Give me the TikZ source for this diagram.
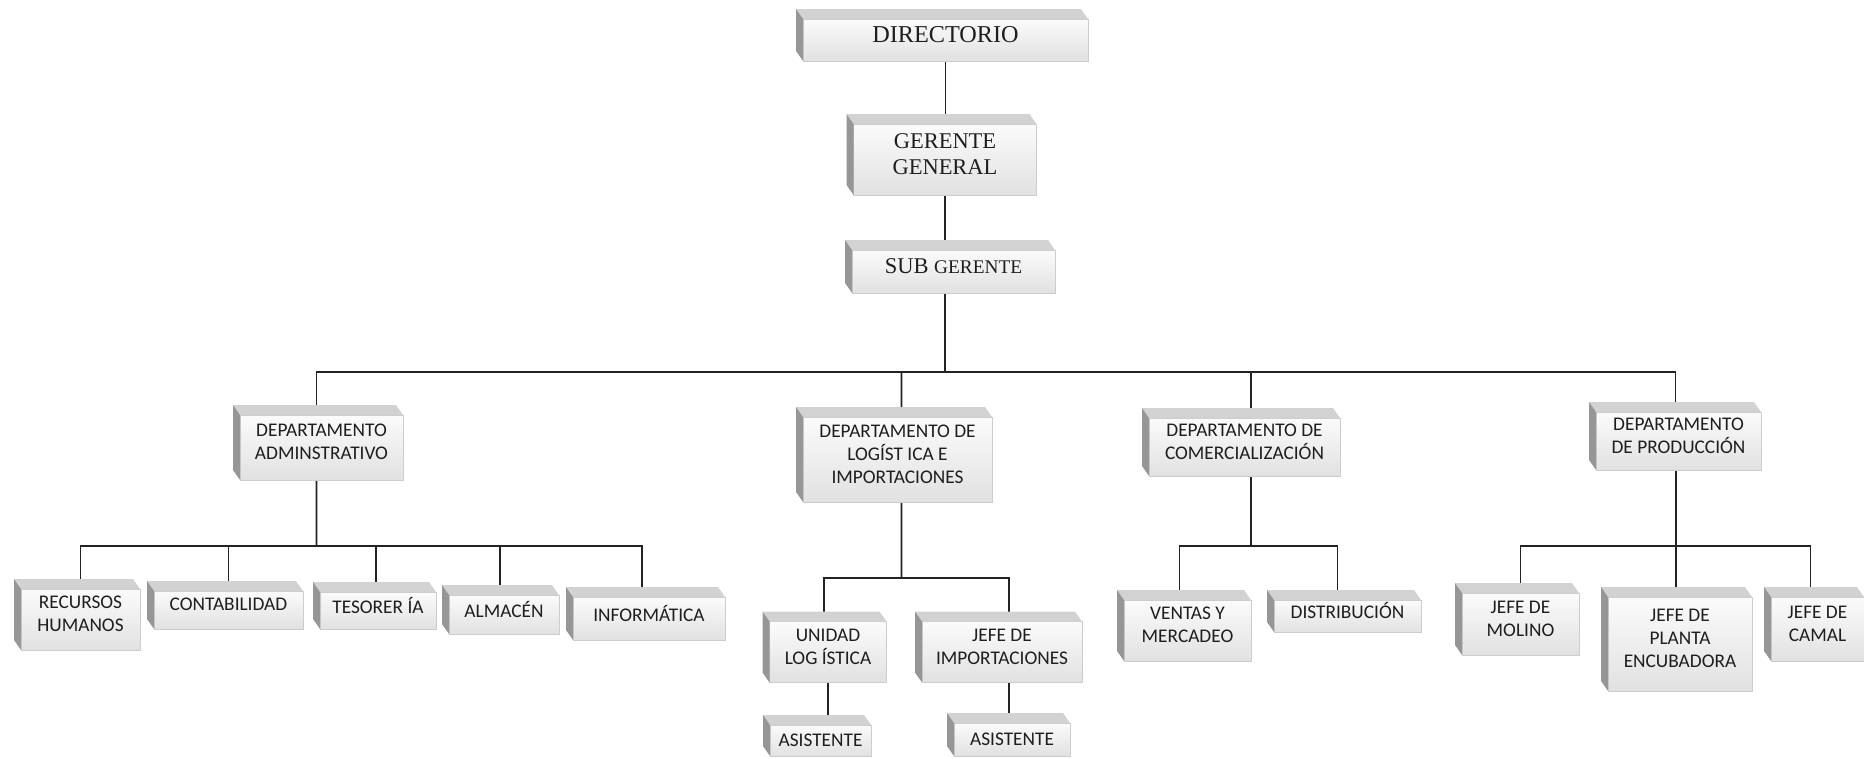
\documentclass[tikz,border=0pt]{standalone}
\usepackage{fontspec}
\setmainfont{Liberation Serif}
\newfontfamily\calibri{Carlito}
\usetikzlibrary{calc,backgrounds}
\definecolor{Ink}{RGB}{30,30,30}
\definecolor{Wire}{RGB}{35,35,35}
\definecolor{FaceTop}{RGB}{251,251,251}
\definecolor{FaceBot}{RGB}{225,225,225}
\definecolor{Rim}{RGB}{205,205,205}
\definecolor{BevelTop}{RGB}{210,210,210}
\definecolor{BevelSide}{RGB}{150,150,150}
\tikzset{
  post/.style={draw=Rim,line width=0.4pt,top color=FaceTop,bottom color=FaceBot,inner sep=0pt,outer sep=0pt,align=center,text=Ink,text depth=0.22cm},
  toppost/.style={post,font=\fontsize{12.8}{14.8}\selectfont},
  deptpost/.style={post,font=\calibri\fontsize{11}{13.2}\selectfont},
  link/.style={draw=Wire,line width=1.1pt},
  bevtop/.style={fill=BevelTop,draw=none},
  bevside/.style={fill=BevelSide,draw=none}
}

\begin{document}
\begin{tikzpicture}[x=0.02cm,y=-0.02cm]
\useasboundingbox (0,0) rectangle (1864,758);

\node[toppost,minimum width=5.70cm,minimum height=0.84cm,font=\fontsize{13.8}{16}\selectfont] (dir) at (945.5,40) {DIRECTORIO};
\node[toppost,minimum width=3.66cm,minimum height=1.42cm] (gg) at (945,159.5) {GERENTE\\GENERAL};
\node[toppost,minimum width=4.06cm,minimum height=0.86cm] (sub) at (953.5,271.5) {SUB {\fontsize{11}{13}\selectfont GERENTE}};

\node[deptpost,minimum width=3.26cm,minimum height=1.30cm] (dadm) at (321.5,447.5) {DEPARTAMENTO\\ADMINSTRATIVO};
\node[deptpost,minimum width=3.78cm,minimum height=1.70cm] (dlog) at (897.5,459.5) {DEPARTAMENTO DE\\LOGÍST ICA E\\IMPORTACIONES};
\node[deptpost,minimum width=3.82cm,minimum height=1.16cm] (dcom) at (1244.5,447) {DEPARTAMENTO DE\\COMERCIALIZACIÓN};
\node[deptpost,minimum width=3.30cm,minimum height=1.16cm] (dprod) at (1678.5,441) {DEPARTAMENTO\\DE PRODUCCIÓN};

\node[deptpost,minimum width=2.38cm,minimum height=1.22cm] (rh) at (80.5,619.5) {RECURSOS\\HUMANOS};
\node[deptpost,minimum width=2.98cm,minimum height=0.76cm] (cont) at (228.5,610) {CONTABILIDAD};
\node[deptpost,minimum width=2.32cm,minimum height=0.74cm] (tes) at (378,610.5) {TESORER ÍA};
\node[deptpost,minimum width=2.20cm,minimum height=0.78cm] (alm) at (504,614.5) {ALMACÉN};
\node[deptpost,minimum width=3.04cm,minimum height=0.86cm] (inf) at (649,618.5) {INFORMÁTICA};

\node[deptpost,minimum width=2.34cm,minimum height=1.22cm] (ul) at (828,652) {UNIDAD\\LOG ÍSTICA};
\node[deptpost,minimum width=3.20cm,minimum height=1.22cm] (ji) at (1002,652) {JEFE DE\\IMPORTACIONES};
\node[deptpost,minimum width=2.02cm,minimum height=0.62cm,text depth=0.02cm] (as1) at (820.5,740.5) {ASISTENTE};
\node[deptpost,minimum width=2.32cm,minimum height=0.66cm,text depth=0.02cm] (as2) at (1012,739.5) {ASISTENTE};

\node[deptpost,minimum width=2.54cm,minimum height=1.22cm] (vm) at (1187.5,630.5) {VENTAS Y\\MERCADEO};
\node[deptpost,minimum width=2.94cm,minimum height=0.64cm] (dist) at (1347.5,616) {DISTRIBUCIÓN};

\node[deptpost,minimum width=2.34cm,minimum height=1.24cm] (jm) at (1520.5,624) {JEFE DE\\MOLINO};
\node[deptpost,minimum width=2.88cm,minimum height=1.88cm] (jpe) at (1680,644) {JEFE DE\\PLANTA\\ENCUBADORA};
\node[deptpost,minimum width=1.86cm,minimum height=1.28cm] (jc) at (1817.5,629) {JEFE DE\\CAMAL};

\foreach \n in {dir,gg,sub,dadm,dlog,dcom,dprod,rh,cont,tes,alm,inf,ul,ji,as1,as2,vm,dist,jm,jpe,jc}{
  \fill[bevtop] (\n.north west) -- ++(-7,-10) -- ($(\n.north east)+(-7,-10)$) -- (\n.north east) -- cycle;
  \fill[bevside] (\n.north west) -- ++(-7,-10) -- ($(\n.south west)+(-7,-10)$) -- (\n.south west) -- cycle;
}

\coordinate (mainbus) at (945,372);
\coordinate (admbus) at (316.5,546);
\coordinate (logbus) at (901.5,578);
\coordinate (combus) at (1251,546);
\coordinate (prodbus) at (1676,546);

\begin{pgfonlayer}{background}
\draw[link] (dir.south) -- (dir.south |- gg.north);\draw[link] (gg.south) -- (gg.south |- sub.north);\draw[link] (gg.south |- sub.south) -- (mainbus);
\draw[link] ([xshift=-0.1cm]dadm.north) |- (mainbus) -| ([xshift=-0.06cm]dprod.north);\draw[link] ([xshift=0.08cm]dlog.north) -- (logbus |- mainbus);\draw[link] ([xshift=0.13cm]dcom.north) -- (combus |- mainbus);

\draw[link] ([xshift=-0.1cm]dadm.south) -- (admbus);\draw[link] (rh.north) |- (admbus) -| ([xshift=-0.14cm]inf.north);
\draw[link] (cont.north) -- (cont.north |- admbus);\draw[link] ([xshift=-0.04cm]tes.north) -- ([xshift=-0.04cm]tes.north |- admbus);\draw[link] ([xshift=-0.08cm]alm.north) -- ([xshift=-0.08cm]alm.north |- admbus);
\draw[link] ([xshift=0.08cm]dlog.south) -- (logbus);\draw[link] ([xshift=-0.08cm]ul.north) |- (logbus) -| ([xshift=0.14cm]ji.north);
\draw[link] (ul.south) -- (ul.south |- as1.north);\draw[link] ([xshift=0.14cm]ji.south) -- ([xshift=0.14cm]ji.south |- as2.north);
\draw[link] ([xshift=0.13cm]dcom.south) -- (combus);\draw[link] ([xshift=-0.16cm]vm.north) |- (combus) -| ([xshift=-0.2cm]dist.north);
\draw[link] ([xshift=-0.05cm]dprod.south) -- (prodbus);\draw[link] (jm.north) |- (prodbus) -| ([xshift=-0.14cm]jc.north);\draw[link] ([xshift=-0.08cm]jpe.north) -- (prodbus);
\end{pgfonlayer}
\end{tikzpicture}
\end{document}
